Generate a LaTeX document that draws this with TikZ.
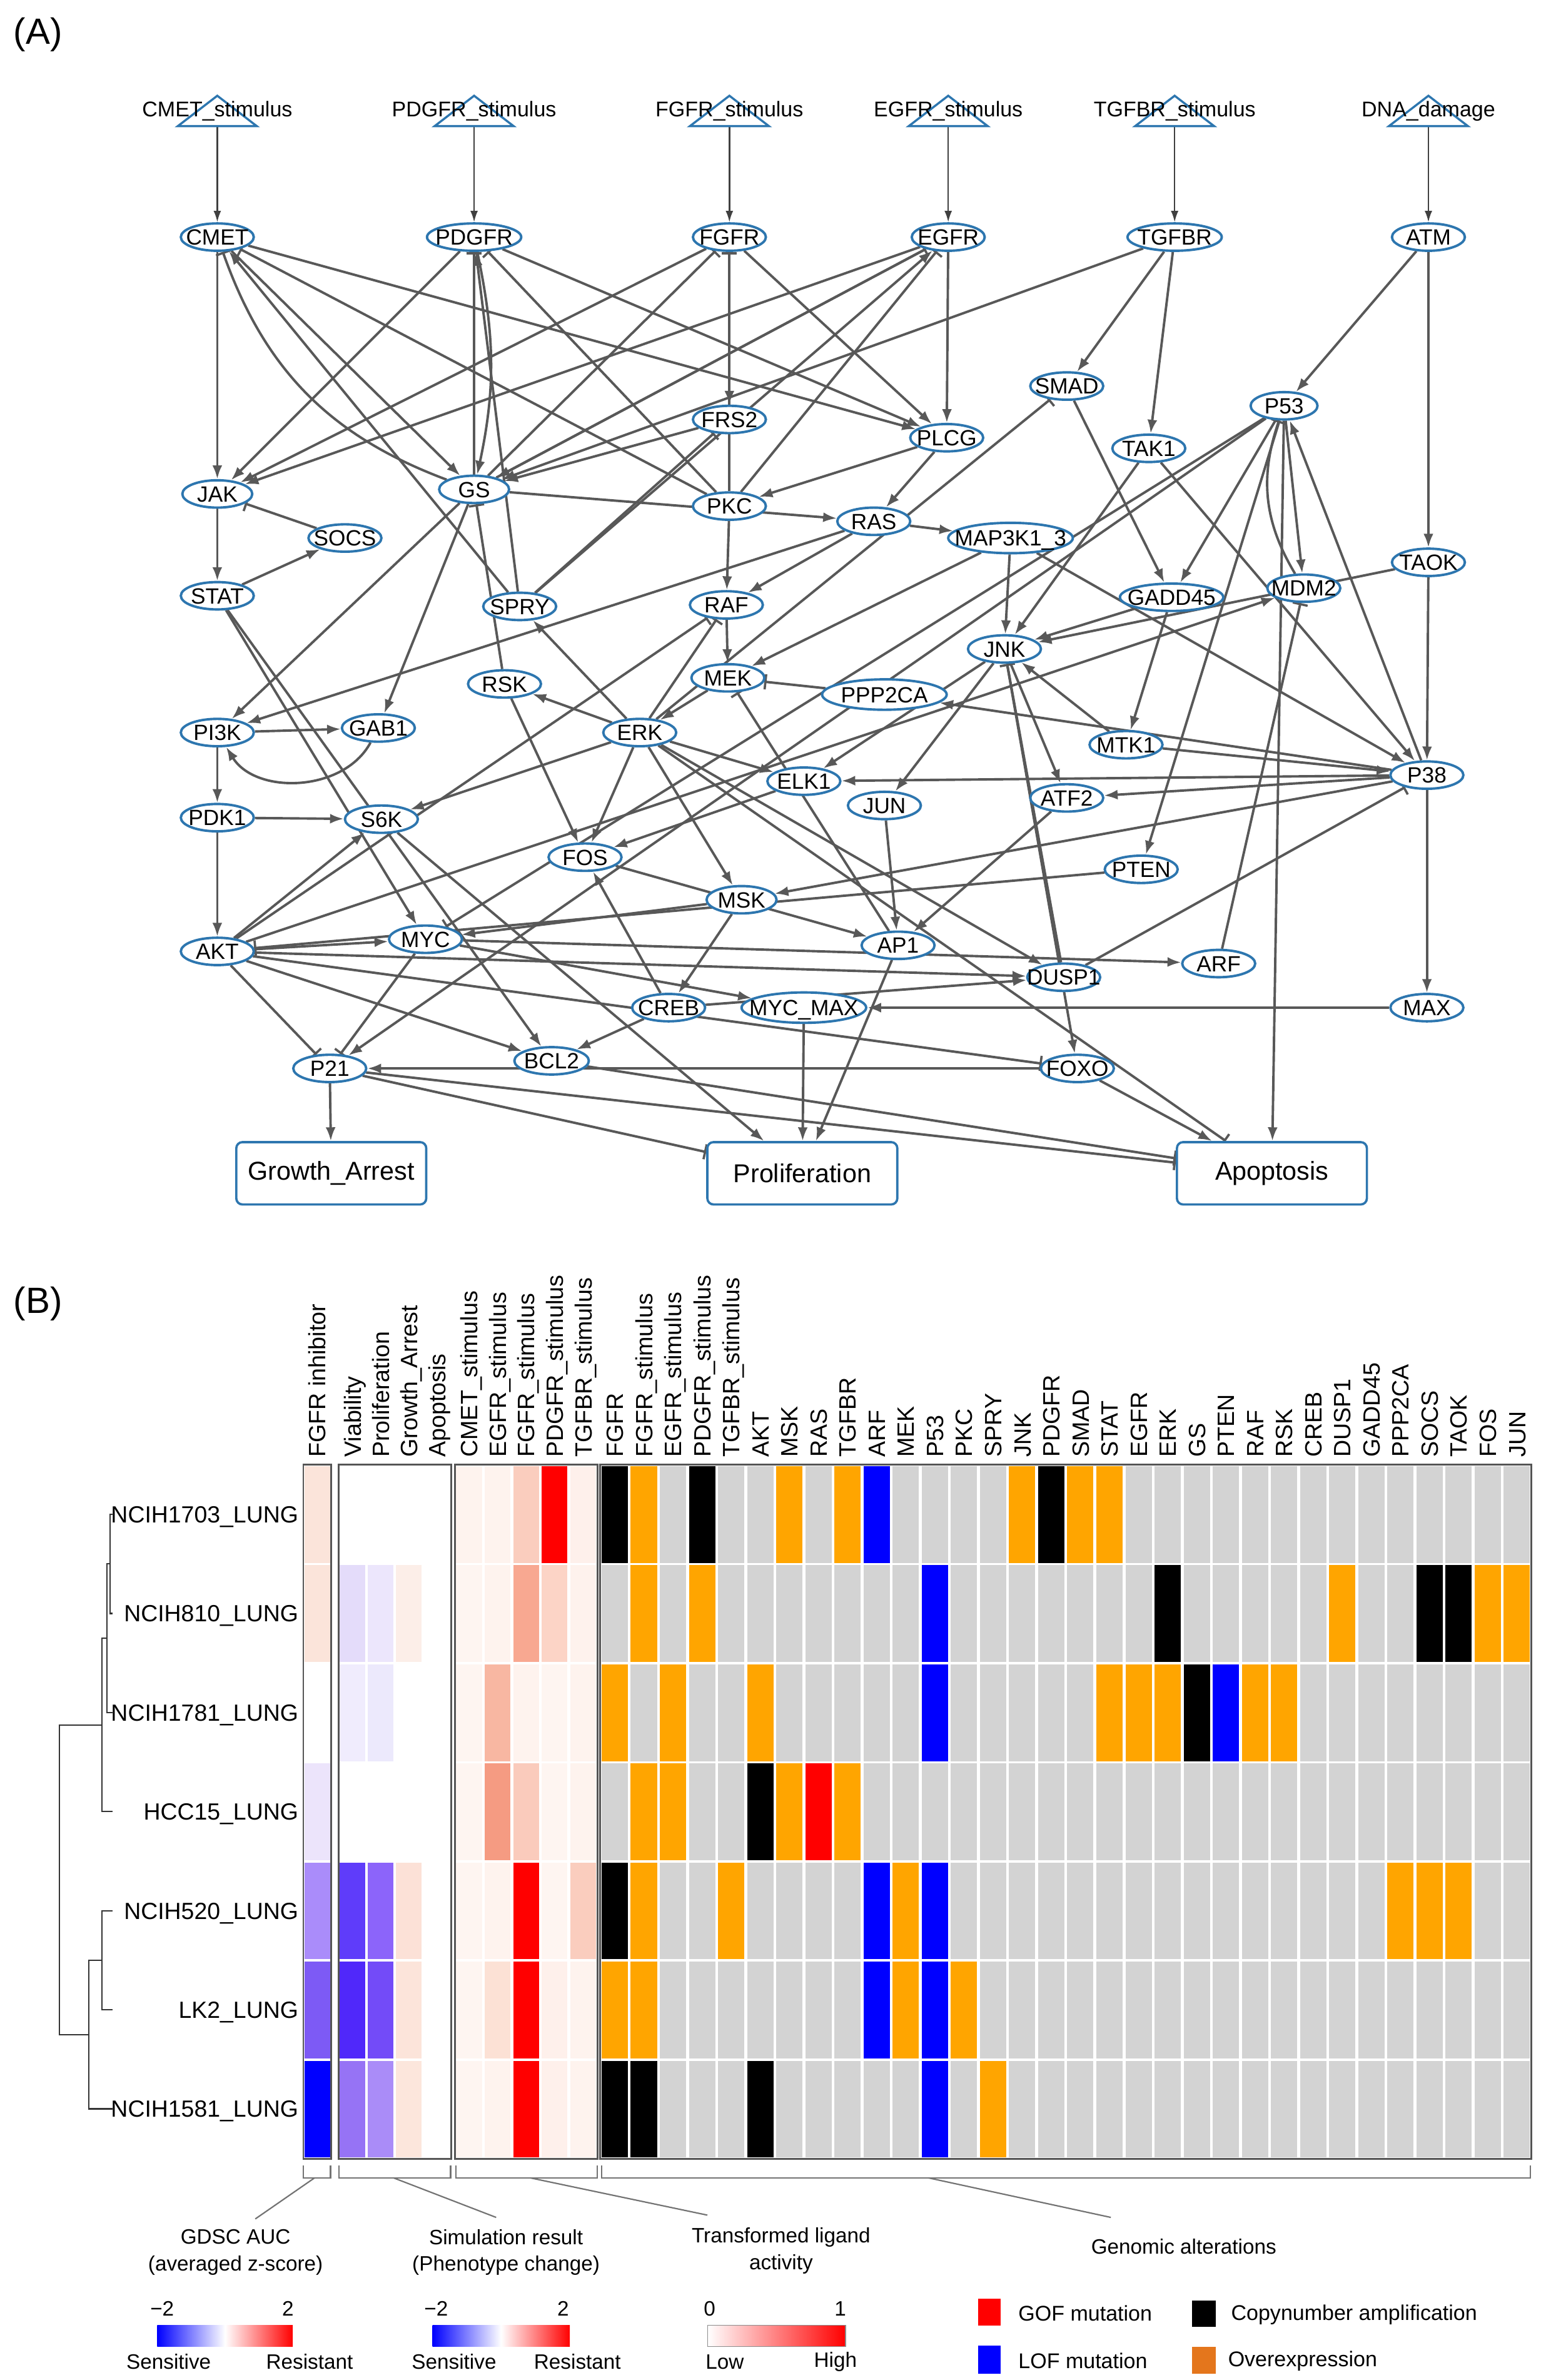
\documentclass[tikz,border=0pt]{standalone}
\usepackage{fontspec}
\setmainfont{Liberation Sans}
\usetikzlibrary{shapes.geometric,arrows.meta,backgrounds}
\definecolor{nodeblue}{RGB}{45,118,175}
\definecolor{edgegray}{RGB}{88,88,88}
\definecolor{framegray}{RGB}{85,85,85}
\definecolor{gmg}{RGB}{211,211,211}
\definecolor{gmk}{RGB}{0,0,0}
\definecolor{gmo}{RGB}{255,165,0}
\definecolor{gmb}{RGB}{0,0,255}
\definecolor{gmr}{RGB}{255,0,0}
\definecolor{ovcol}{RGB}{228,118,28}
% node text that does not widen the ellipse
\newcommand\pn[1]{\makebox[0pt]{#1}}
% one heatmap cell: x, width, row, r, g, b
\newcommand\hcell[6]{\edef\hctmp{\noexpand\definecolor{hc}{RGB}{#4,#5,#6}}\hctmp
  \fill[hc] (#1,{964.7+65.2*#3}) rectangle ++(#2,63.7);}
\begin{document}
\begin{tikzpicture}[x=1pt,y=-1pt,
  prot/.style={ellipse,draw=nodeblue,fill=white,line width=1.6pt,inner sep=0pt,
    text height=11.55pt,text depth=1.15pt,minimum width=#1,minimum height=18pt,
    font=\fontsize{14.5}{16}\selectfont},
  prot/.default=48pt,
  pheno/.style={rectangle,rounded corners=4pt,draw=nodeblue,fill=white,line width=1.5pt,
    minimum width=125pt,minimum height=41pt,font=\fontsize{17}{19}\selectfont},
  stimtri/.style={draw=nodeblue,line width=1.4pt},
  stimlab/.style={inner sep=0pt,font=\fontsize{14}{16}\selectfont},
  stim/.style={draw=black!75,line width=1pt,-{Latex[length=7.5pt,width=5pt]}},
  act/.style={draw=edgegray,line width=1.6pt,-{Latex[length=9pt,width=6.5pt]}},
  inh/.style={draw=edgegray,line width=1.6pt,-{Bar[width=10pt,line width=1.5pt]}},
  hlab/.style={rotate=90,anchor=west,inner sep=0pt,text height=11.1pt,text depth=0pt,
    font=\fontsize{15.5}{17}\selectfont},
  rlab/.style={anchor=east,inner sep=0pt,text height=11pt,text depth=0pt,
    font=\fontsize{15.4}{17}\selectfont},
  leg/.style={inner sep=0pt,align=center,font=\fontsize{13.7}{17.5}\selectfont},
  brk/.style={draw=black!55,line width=0.9pt},
  dendro/.style={draw=black!80,line width=0.9pt},
  frame/.style={draw=framegray,line width=1.2pt}]
\useasboundingbox (0,0) rectangle (1014,1566);

\node[font=\fontsize{24}{26}\selectfont] (labA) at (25,23) {(A)};
\node[font=\fontsize{24}{26}\selectfont] (labB) at (25,858) {(B)};

% stimuli
\foreach \n/\x/\t in {CMETs/143/CMET\_stimulus, PDGFRs/312/PDGFR\_stimulus,
    FGFRs/480/FGFR\_stimulus, EGFRs/624/EGFR\_stimulus,
    TGFBRs/773/TGFBR\_stimulus, DNAd/940/DNA\_damage}{
  \draw[stimtri] (\x-26,83) -- (\x,63) -- (\x+26,83) -- cycle;
  \node[stimlab] (\n lab) at (\x,73) {\t};
  \coordinate (\n) at (\x,83);
}

% proteins
\node[prot] (CMET) at (143,156) {\pn{CMET}};
\node[prot=62pt] (PDGFR) at (312,156) {\pn{PDGFR}};
\node[prot] (FGFR) at (480,156) {\pn{FGFR}};
\node[prot] (EGFR) at (624,156) {\pn{EGFR}};
\node[prot=62pt] (TGFBR) at (773,156) {\pn{TGFBR}};
\node[prot] (ATM) at (940,156) {\pn{ATM}};
\node[prot] (SMAD) at (702,254) {\pn{SMAD}};
\node[prot=44pt] (P53) at (845,267) {\pn{P53}};
\node[prot] (FRS2) at (480,276) {\pn{FRS2}};
\node[prot] (PLCG) at (623,288) {\pn{PLCG}};
\node[prot] (TAK1) at (756,295) {\pn{TAK1}};
\node[prot=46pt] (JAK) at (143,325) {\pn{JAK}};
\node[prot=46pt] (GS) at (312,322) {\pn{GS}};
\node[prot] (PKC) at (480,333) {\pn{PKC}};
\node[prot] (RAS) at (575,343) {\pn{RAS}};
\node[prot=82pt,minimum height=20pt] (MAPK) at (665,354) {\pn{MAP3K1\_3}};
\node[prot] (SOCS) at (227,354) {\pn{SOCS}};
\node[prot] (TAOK) at (940,370) {\pn{TAOK}};
\node[prot] (MDM2) at (858,387) {\pn{MDM2}};
\node[prot] (STAT) at (143,392) {\pn{STAT}};
\node[prot=68pt] (GADD45) at (771,393) {\pn{GADD45}};
\node[prot] (SPRY) at (342,399) {\pn{SPRY}};
\node[prot] (RAF) at (478,398) {\pn{RAF}};
\node[prot] (JNK) at (661,427) {\pn{JNK}};
\node[prot] (MEK) at (479,446) {\pn{MEK}};
\node[prot] (RSK) at (332,450) {\pn{RSK}};
\node[prot=82pt,minimum height=20pt] (PPP2CA) at (582,457) {\pn{PPP2CA}};
\node[prot] (GAB1) at (249,479) {\pn{GAB1}};
\node[prot] (PI3K) at (143,482) {\pn{PI3K}};
\node[prot] (ERK) at (421,482) {\pn{ERK}};
\node[prot] (MTK1) at (741,490) {\pn{MTK1}};
\node[prot] (P38) at (939,510) {\pn{P38}};
\node[prot] (ELK1) at (529,514) {\pn{ELK1}};
\node[prot] (ATF2) at (702,525) {\pn{ATF2}};
\node[prot] (JUN) at (582,530) {\pn{JUN}};
\node[prot] (PDK1) at (143,538) {\pn{PDK1}};
\node[prot] (S6K) at (251,539) {\pn{S6K}};
\node[prot] (FOS) at (385,564) {\pn{FOS}};
\node[prot] (PTEN) at (751,572) {\pn{PTEN}};
\node[prot=46pt] (MSK) at (488,592) {\pn{MSK}};
\node[prot] (MYC) at (280,618) {\pn{MYC}};
\node[prot] (AP1) at (591,622) {\pn{AP1}};
\node[prot] (AKT) at (143,626) {\pn{AKT}};
\node[prot] (ARF) at (802,634) {\pn{ARF}};
\node[prot] (DUSP1) at (700,643) {\pn{DUSP1}};
\node[prot] (CREB) at (440,663) {\pn{CREB}};
\node[prot=82pt,minimum height=20pt] (MYCMAX) at (529,663) {\pn{MYC\_MAX}};
\node[prot] (MAX) at (939,663) {\pn{MAX}};
\node[prot=49pt] (BCL2) at (363,698) {\pn{BCL2}};
\node[prot] (P21) at (217,703) {\pn{P21}};
\node[prot] (FOXO) at (709,703) {\pn{FOXO}};
\node[pheno] (GA) at (218,772) {Growth\_Arrest};
\node[pheno] (Prolif) at (528,772) {Proliferation};
\node[pheno] (Apop) at (837,772) {Apoptosis};

\begin{pgfonlayer}{background}
\foreach \a/\b in {CMETs/CMET,PDGFRs/PDGFR,FGFRs/FGFR,EGFRs/EGFR,TGFBRs/TGFBR,DNAd/ATM}
  \draw[stim] (\a) -- (\b);
\foreach \a/\b in {CMET/JAK,PDGFR/JAK,FGFR/JAK,EGFR/JAK,
    CMET/GS,FRS2/GS,EGFR/GS,TGFBR/GS,
    CMET/PLCG,PDGFR/PLCG,FGFR/PLCG,EGFR/PLCG,
    FGFR/FRS2,SPRY/CMET,SPRY/PDGFR,SPRY/EGFR,
    TGFBR/SMAD,TGFBR/TAK1,ATM/P53,ATM/TAOK,
    JAK/STAT,STAT/SOCS,STAT/MYC,STAT/BCL2,
    PLCG/PKC,PLCG/RAS,GS/RAS,PKC/RAF,RAS/RAF,RAS/MAPK,RAS/PI3K,
    GS/PI3K,GS/GAB1,PI3K/GAB1,PI3K/PDK1,PDK1/S6K,PDK1/AKT,
    RAF/MEK,MAPK/MEK,MAPK/JNK,MAPK/P38,MEK/ERK,
    ERK/SPRY,ERK/RSK,ERK/ELK1,ERK/MSK,ERK/FOS,ERK/S6K,ERK/DUSP1,
    RSK/FOS,ELK1/FOS,CREB/FOS,FOS/AP1,JUN/AP1,ATF2/AP1,
    JNK/JUN,JNK/ATF2,JNK/ELK1,JNK/FOXO,
    P38/ELK1,P38/ATF2,P38/MSK,P38/MAX,P38/PPP2CA,P38/P53,
    TAOK/P38,TAOK/JNK,TAK1/JNK,TAK1/P38,MTK1/JNK,MTK1/P38,
    GADD45/MTK1,GADD45/JNK,SMAD/GADD45,P53/GADD45,P53/MDM2,P53/PTEN,P53/P21,P53/Apop,
    AKT/MDM2,AKT/MYC,AKT/BCL2,AKT/S6K,AKT/DUSP1,
    MSK/CREB,MSK/MYC,CREB/BCL2,CREB/DUSP1,
    MYC/ARF,MYC/MYCMAX,MAX/MYCMAX,
    MYCMAX/Prolif,AP1/Prolif,S6K/Prolif,P21/GA,FOXO/Apop,FOXO/P21}
  \draw[act] (\a) -- (\b);
\foreach \a/\b in {SOCS/JAK,GS/PDGFR,GS/FGFR,GS/EGFR,
    PKC/CMET,PKC/PDGFR,PKC/FGFR,PKC/EGFR,
    SPRY/FRS2,RSK/GS,ERK/RAF,AKT/RAF,PPP2CA/MEK,AP1/MEK,ERK/SMAD,
    DUSP1/JNK,DUSP1/P38,ARF/MDM2,PTEN/AKT,
    AKT/P21,MYC/P21,AKT/FOXO,P53/MYC,
    P21/Prolif,P21/Apop,BCL2/Apop,ERK/Apop}
  \draw[inh] (\a) -- (\b);
\draw[act] (PDGFR) to[bend left=12] (GS);
\draw[inh] (GS) to[bend left=25] (CMET);
\draw[act] (GAB1) to[bend left=60] (PI3K);
\draw[inh] (MDM2) to[bend left=25] (P53);
\end{pgfonlayer}

% ---------------- (B) heatmap
% drug response
\foreach \i/\r/\g/\b in {0/251/228/218,1/251/228/218,3/236/228/251,
    4/170/140/250,5/125/90/245,6/0/0/255}
  \hcell{200.4}{16.8}{\i}{\r}{\g}{\b};
% simulated phenotypes
\foreach \x/\i/\r/\g/\b in {223.5/1/228/220/250,242/1/236/230/252,260.5/1/252/238/232,
    223.5/2/240/236/253,242/2/236/233/252,
    223.5/4/95/60/250,242/4/140/100/250,260.5/4/252/225/215,
    223.5/5/80/40/250,242/5/115/75/248,260.5/5/252/228/218,
    223.5/6/150/115/245,242/6/170/140/248,260.5/6/252/230/220}
  \hcell{\x}{17}{\i}{\r}{\g}{\b};
% ligand activity
\foreach \k/\i/\r/\g/\b in {
    0/0/254/243/238,1/0/254/243/238,2/0/250/205/190,3/0/255/0/0,4/0/254/240/235,
    0/1/254/245/241,1/1/254/243/238,2/1/248/168/145,3/1/252/212/198,4/1/254/242/237,
    0/2/254/245/241,1/2/248/183/162,2/2/254/243/238,3/2/254/245/241,4/2/254/243/238,
    0/3/254/245/241,1/3/245/155/130,2/3/250/203/188,3/3/254/245/241,4/3/254/243/238,
    0/4/254/245/241,1/4/254/243/238,2/4/255/0/0,3/4/254/245/241,4/4/250/205/190,
    0/5/254/245/241,1/5/252/225/213,2/5/255/0/0,3/5/254/240/235,4/5/254/243/238,
    0/6/254/245/241,1/6/254/243/238,2/6/255/0/0,3/6/254/240/235,4/6/254/243/238}
  \hcell{300.2+18.76*\k}{17}{\i}{\r}{\g}{\b};
% genomic alterations
\foreach \i in {0,...,6}
  \foreach \j in {0,...,31}
    \fill[gmg] ({395.9+19.15*\j},{964.7+65.2*\i}) rectangle ++(17.3,63.7);
\foreach \i/\j/\c in {0/0/gmk,0/1/gmo,0/3/gmk,0/6/gmo,0/8/gmo,0/9/gmb,0/14/gmo,0/15/gmk,0/16/gmo,0/17/gmo,
    1/1/gmo,1/3/gmo,1/11/gmb,1/19/gmk,1/25/gmo,1/28/gmk,1/29/gmk,1/30/gmo,1/31/gmo,
    2/0/gmo,2/2/gmo,2/5/gmo,2/11/gmb,2/17/gmo,2/18/gmo,2/19/gmo,2/20/gmk,2/21/gmb,2/22/gmo,2/23/gmo,
    3/1/gmo,3/2/gmo,3/5/gmk,3/6/gmo,3/7/gmr,3/8/gmo,
    4/0/gmk,4/1/gmo,4/4/gmo,4/9/gmb,4/10/gmo,4/11/gmb,4/27/gmo,4/28/gmo,4/29/gmo,
    5/0/gmo,5/1/gmo,5/9/gmb,5/10/gmo,5/11/gmb,5/12/gmo,
    6/0/gmk,6/1/gmk,6/5/gmk,6/11/gmb,6/13/gmo}
  \fill[\c] ({395.9+19.15*\j},{964.7+65.2*\i}) rectangle ++(17.3,63.7);
\draw[frame] (199.6,963.8) rectangle (218,1420.5);
\draw[frame] (222.7,963.8) rectangle (296.8,1420.5);
\draw[frame] (299.4,963.8) rectangle (393.2,1420.5);
\draw[frame] (395,963.8) rectangle (1007.7,1420.5);

% column labels
\foreach \x/\t [count=\n] in {208.7/FGFR inhibitor,232/Viability,250.5/Proliferation,
    269/Growth\_Arrest,287.5/Apoptosis,308.8/CMET\_stimulus,327.5/EGFR\_stimulus,
    346.3/FGFR\_stimulus,365.1/PDGFR\_stimulus,383.8/TGFBR\_stimulus}
  \node[hlab] (hc\n) at (\x,959) {\t};
\foreach \t [count=\j from 0] in {FGFR,FGFR\_stimulus,EGFR\_stimulus,PDGFR\_stimulus,
    TGFBR\_stimulus,AKT,MSK,RAS,TGFBR,ARF,MEK,P53,PKC,SPRY,JNK,PDGFR,SMAD,STAT,EGFR,
    ERK,GS,PTEN,RAF,RSK,CREB,DUSP1,GADD45,PPP2CA,SOCS,TAOK,FOS,JUN}
  \node[hlab] (hg\j) at ({404.6+19.15*\j},959) {\t};

% cell lines
\foreach \t [count=\i from 0] in {NCIH1703\_LUNG,NCIH810\_LUNG,NCIH1781\_LUNG,HCC15\_LUNG,
    NCIH520\_LUNG,LK2\_LUNG,NCIH1581\_LUNG}
  \node[rlab] (row\i) at (196.5,{996.4+65.2*\i}) {\t};
\draw[dendro] (74,996.4) -| (72.5,1061.6) -- (74,1061.6);
\draw[dendro] (72.5,1029) -| (70.5,1126.8) -- (74,1126.8);
\draw[dendro] (70.5,1077.9) -| (67,1192) -- (74,1192);
\draw[dendro] (74,1257.2) -| (67,1322.4) -- (74,1322.4);
\draw[dendro] (67,1289.8) -| (58.3,1387.6) -- (74,1387.6);
\draw[dendro] (67,1135) -| (39,1338.7) -- (58.3,1338.7);

% block brackets
\draw[brk] (199.5,1425) |- (217.5,1433) -- (217.5,1425);
\draw[brk] (223,1425) |- (296.5,1433) -- (296.5,1425);
\draw[brk] (300,1425) |- (393,1433) -- (393,1425);
\draw[brk] (396,1425) |- (1007,1433) -- (1007,1425);
\coordinate (gdscA) at (207,1433);  \coordinate (gdscB) at (168,1460);
\coordinate (simA) at (259,1433);   \coordinate (simB) at (326.5,1459);
\coordinate (ligA) at (349,1433);   \coordinate (ligB) at (465.5,1457.5);
\coordinate (genA) at (611,1433);   \coordinate (genB) at (731,1459);
\foreach \p in {gdsc,sim,lig,gen}
  \draw[brk] (\p A) -- (\p B);
\node[leg] (gdsc) at (155,1482) {GDSC AUC\\(averaged z-score)};
\node[leg] (sim) at (333,1482) {Simulation result\\(Phenotype change)};
\node[leg] (lig) at (514,1481) {Transformed ligand\\activity};
\node[leg] (gen) at (779,1478) {Genomic alterations};

% colour keys
\shade[left color=blue,right color=red,middle color=white] (103.5,1530) rectangle (192.7,1544);
\shade[left color=blue,right color=red,middle color=white] (284.6,1530) rectangle (375,1544);
\shade[left color=white,right color=red] (465.7,1530) rectangle (556.3,1544);
\draw[draw=black!45,line width=0.7pt] (465.7,1530) rectangle (556.3,1544);
\foreach \x/\t [count=\n] in {106.7/−2,189.5/2,287/−2,370.6/2,467/0,553/1}
  \node[leg] (kn\n) at (\x,1519) {\t};
\foreach \x/\t [count=\n] in {111/Sensitive,203.7/Resistant,298.8/Sensitive,380/Resistant,
    477/Low,549.8/High}
  \node[leg] (kt\n) at (\x,1554) {\t};

% alteration legend
\fill[gmr] (643.6,1512.6) rectangle (658.5,1530.3);
\fill[gmk] (784.5,1513.7) rectangle (800,1531);
\fill[gmb] (643.6,1543.5) rectangle (658.5,1562);
\fill[ovcol] (784.5,1544) rectangle (800,1562);
\node[leg,anchor=west,font=\fontsize{14}{16}\selectfont] (gof) at (670,1522) {GOF mutation};
\node[leg,anchor=west,font=\fontsize{14}{16}\selectfont] (cna) at (810,1523) {Copynumber amplification};
\node[leg,anchor=west,font=\fontsize{14}{16}\selectfont] (lof) at (670,1553.5) {LOF mutation};
\node[leg,anchor=west,font=\fontsize{14}{16}\selectfont] (ovx) at (808,1553.5) {Overexpression};
\end{tikzpicture}
\end{document}
